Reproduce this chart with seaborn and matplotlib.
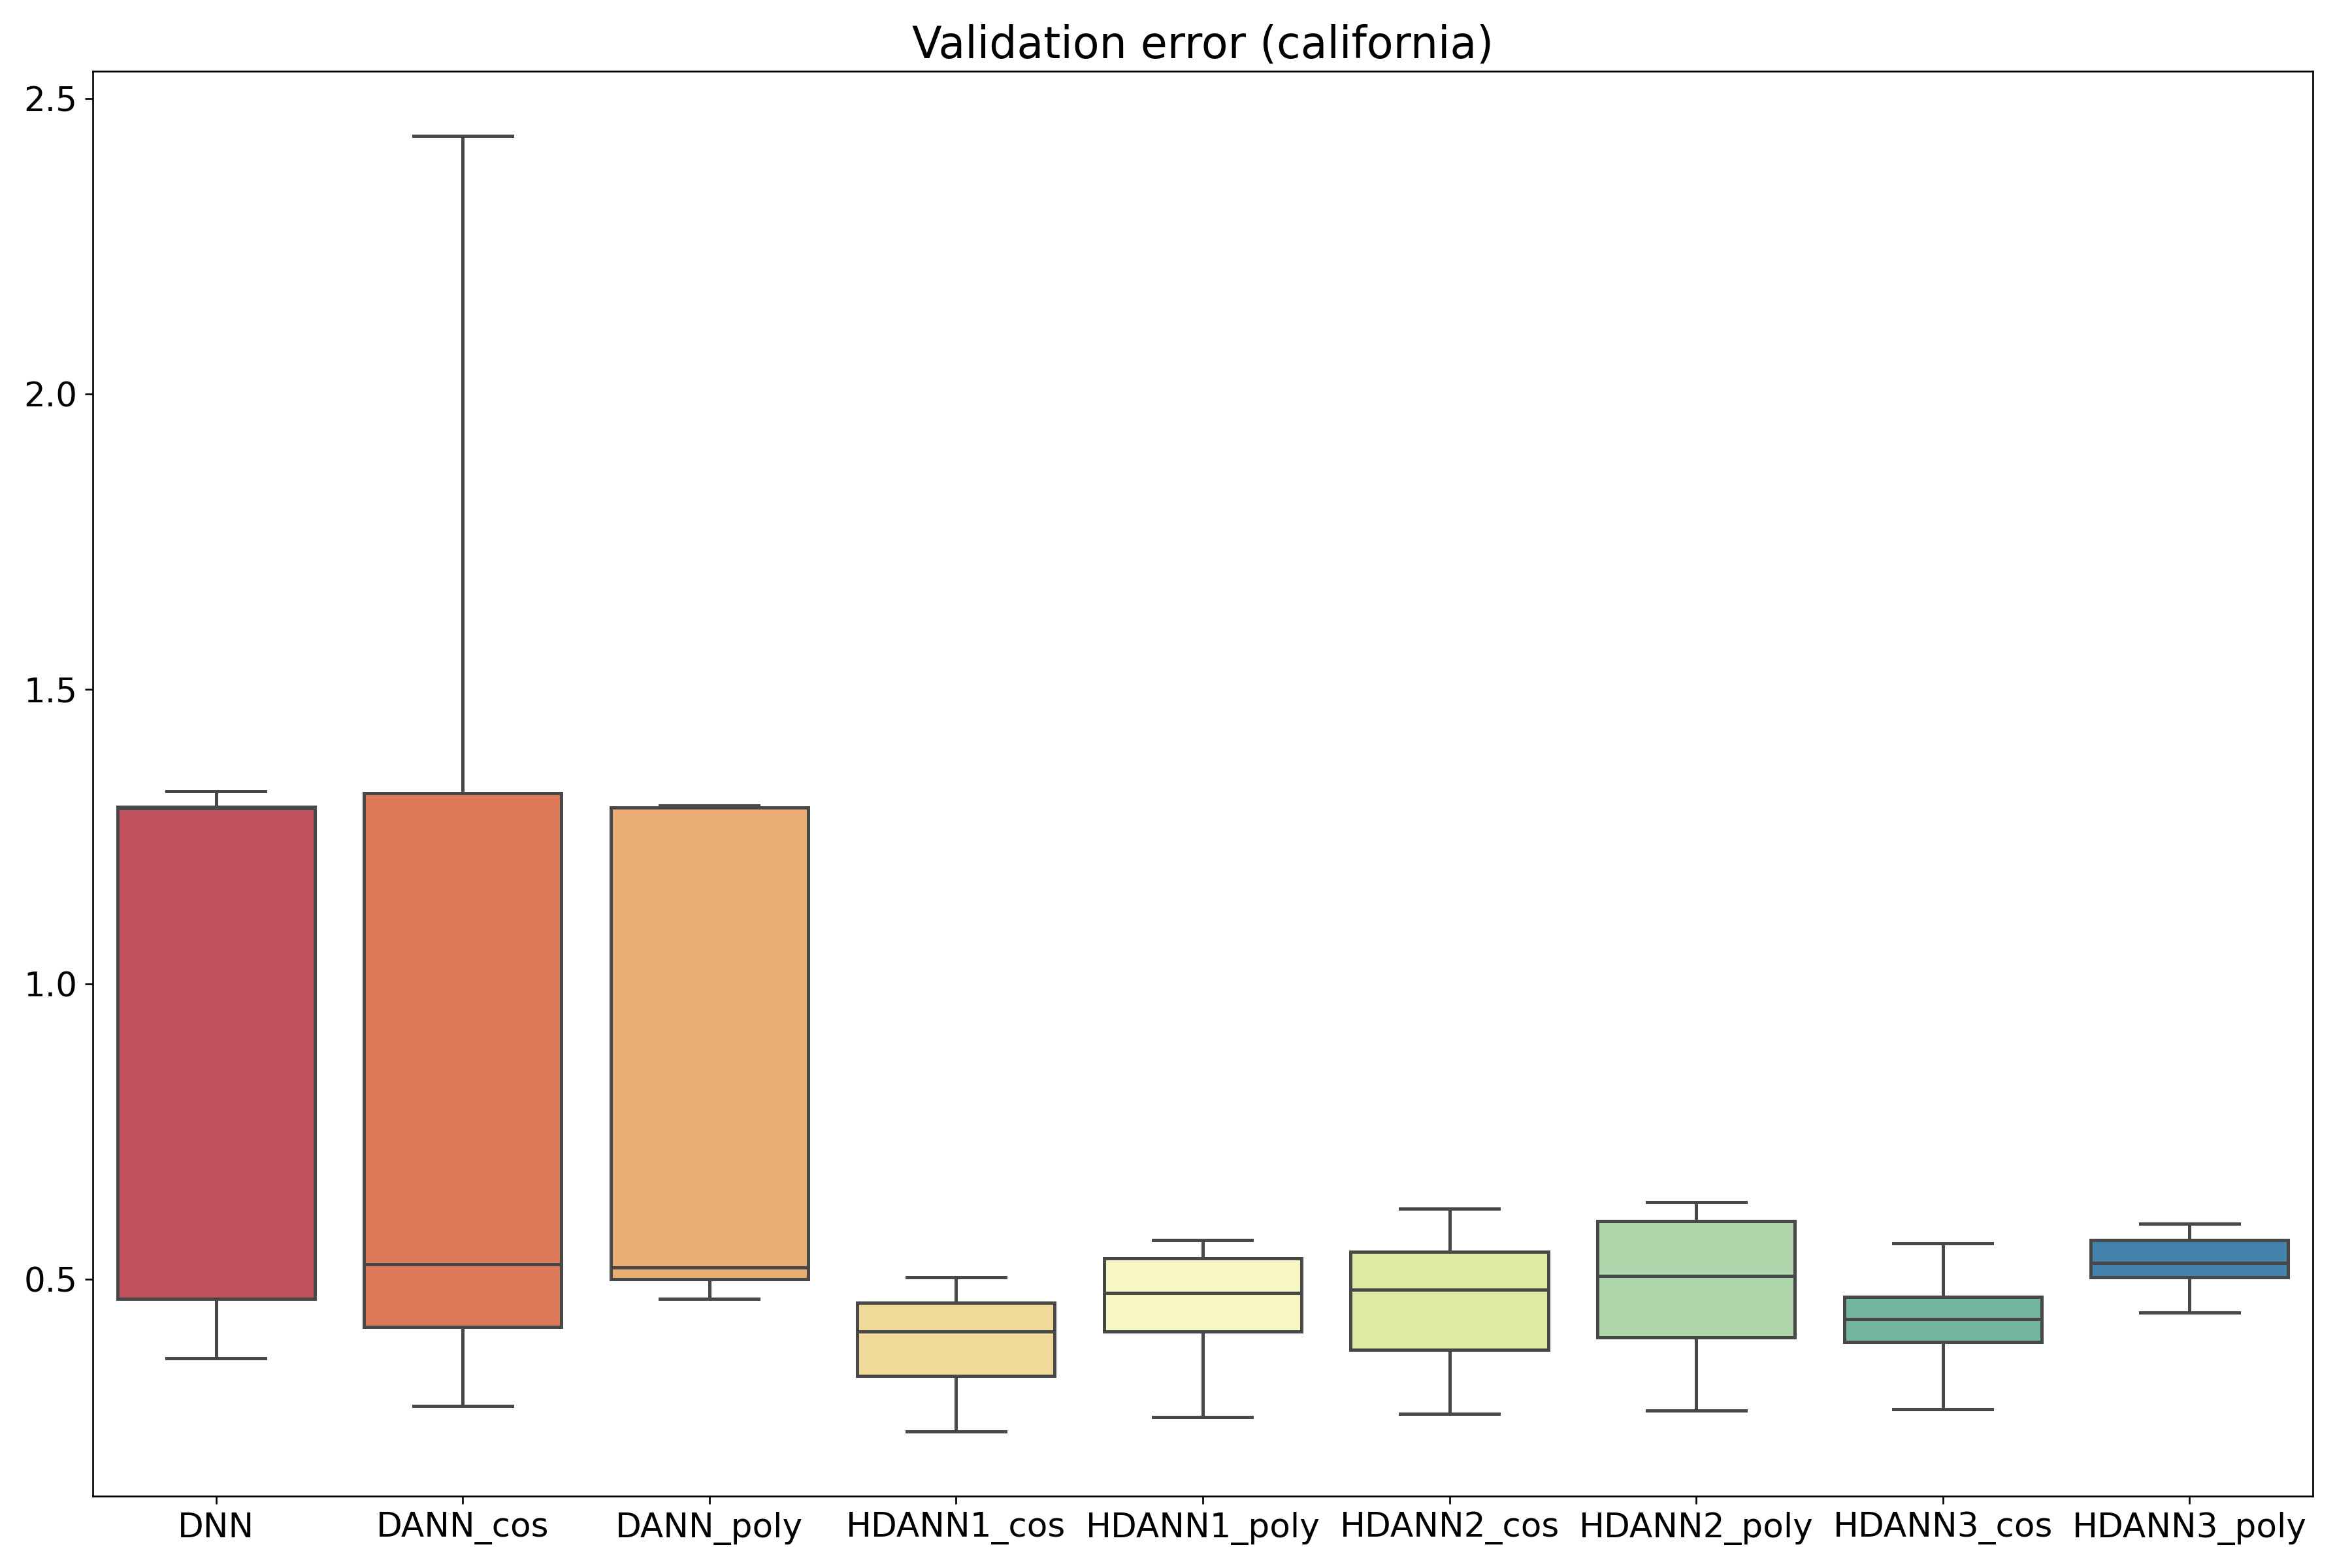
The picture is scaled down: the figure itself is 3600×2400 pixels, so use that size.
import matplotlib
matplotlib.use("Agg")

import matplotlib.pyplot as plt
import pandas as pd
import seaborn as sns

# five-number summary per model: whisker low, q1, median, q3, whisker high
models = ["DNN", "DANN_cos", "DANN_poly", "HDANN1_cos", "HDANN1_poly",
          "HDANN2_cos", "HDANN2_poly", "HDANN3_cos", "HDANN3_poly"]
dnn = [0.366, 0.467, 1.298, 1.300, 1.327]
dann_cos = [0.285, 0.419, 0.525, 1.324, 2.437]
dann_poly = [0.467, 0.500, 0.520, 1.299, 1.302]
hdann1_cos = [0.242, 0.336, 0.412, 0.460, 0.503]
hdann1_poly = [0.267, 0.412, 0.477, 0.535, 0.566]
hdann2_cos = [0.272, 0.381, 0.482, 0.546, 0.619]
hdann2_poly = [0.277, 0.401, 0.505, 0.599, 0.631]
hdann3_cos = [0.280, 0.394, 0.432, 0.470, 0.561]
hdann3_poly = [0.444, 0.503, 0.528, 0.566, 0.594]

series = [dnn, dann_cos, dann_poly, hdann1_cos, hdann1_poly,
          hdann2_cos, hdann2_poly, hdann3_cos, hdann3_poly]

df = pd.DataFrame(
    [(m, v) for m, vals in zip(models, series) for v in vals],
    columns=["model", "error"],
)

fig, ax = plt.subplots(figsize=(15, 10))
sns.boxplot(data=df, x="model", y="error", hue="model", palette="Spectral",
            legend=False, whis=(0, 100), linewidth=1.5, ax=ax)
ax.set_title("Validation error (california)", fontsize=20)
ax.set_xlabel("")
ax.set_ylabel("")
ax.tick_params(axis="both", labelsize=15.5)
fig.tight_layout()
fig.savefig("out.png", dpi=240)
plt.close(fig)
